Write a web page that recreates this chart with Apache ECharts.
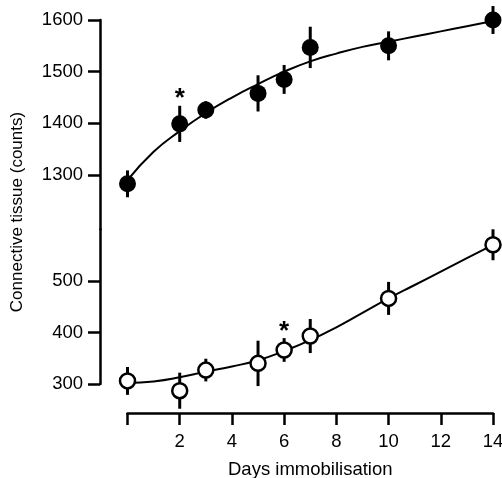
<!DOCTYPE html>
<html>
<head>
<meta charset="utf-8">
<script src="https://cdn.jsdelivr.net/npm/echarts@6/dist/echarts.min.js"></script>
<style>
  html, body { margin: 0; padding: 0; background: #fff; }
  #chart { width: 502px; height: 478px; }
</style>
</head>
<body>
<div id="chart"></div>
<script>
// days of immobilisation for the measured points
const days = [0, 2, 3, 5, 6, 7, 10, 14];
// upper group (filled circles)
const upperMean = [1283, 1399, 1426, 1458, 1485, 1547, 1550, 1600];
const upperErr = [26, 35, 17, 35, 28, 40, 28, 27];
// lower group (open circles)
const lowerMean = [306, 287, 327, 340, 366, 393, 466, 570];
const lowerErr = [27, 35, 22, 44, 23, 33, 32, 30];
// fitted curves
const curveDays = [0, 1, 2, 3, 4, 5, 6, 7, 8, 9, 10, 11, 12, 13, 14];
const upperCurve = [1290, 1345, 1385, 1420, 1450, 1476, 1500, 1520, 1535, 1548, 1558, 1568, 1578, 1588, 1598];
const lowerCurve = [302, 305, 313, 324, 334, 346, 364, 385, 410, 438, 466, 492, 518, 544, 570];
// tick labels
const upperTicks = [1300, 1400, 1500, 1600];
const lowerTicks = [300, 400, 500];
const xTicks = [0, 2, 4, 6, 8, 10, 12, 14];
const xLabels = [2, 4, 6, 8, 10, 12, 14];
// points marked significant (*)
const upperStar = [2];
const lowerStar = [6];

const font = 'Liberation Sans';

function pairs(xs, ys) {
  return xs.map((x, i) => [x, ys[i]]);
}

function errData(means, errs) {
  return days.map((d, i) => [d, means[i] - errs[i], means[i] + errs[i]]);
}

function errorSeries(idx, data) {
  return {
    type: 'custom',
    xAxisIndex: idx,
    yAxisIndex: idx,
    data: data,
    z: 3,
    clip: false,
    renderItem: function (params, api) {
      const lo = api.coord([api.value(0), api.value(1)]);
      const hi = api.coord([api.value(0), api.value(2)]);
      return {
        type: 'line',
        shape: { x1: lo[0], y1: lo[1], x2: hi[0], y2: hi[1] },
        style: { stroke: '#000', lineWidth: 3 }
      };
    }
  };
}

function pointData(means, stars, dist) {
  return days.map((d, i) => {
    const item = { value: [d, means[i]] };
    if (stars.indexOf(d) >= 0) {
      item.label = {
        show: true, formatter: '*', position: 'top', distance: dist,
        fontSize: 26, fontWeight: 'bold', color: '#000', fontFamily: font
      };
    }
    return item;
  });
}

const yCommon = {
  type: 'value',
  offset: 27.5,
  splitLine: { show: false },
  axisLine: { show: true, onZero: false, lineStyle: { color: '#000', width: 2.5 } },
  axisTick: { show: true, length: 12, lineStyle: { color: '#000', width: 2.5 } },
  axisLabel: {
    margin: 17, color: '#000', fontSize: 18.5, fontFamily: font,
    formatter: v => String(v)
  }
};

const chart = echarts.init(document.getElementById('chart'));

chart.setOption({
  animation: false,
  backgroundColor: '#fff',
  grid: [
    { left: 127.5, right: 9, top: 20, height: 209.3, outerBoundsMode: 'none', containLabel: false },
    { left: 127.5, right: 9, top: 229.3, height: 154.7, outerBoundsMode: 'none', containLabel: false }
  ],
  xAxis: [
    { gridIndex: 0, type: 'value', min: 0, max: 14, show: false },
    {
      gridIndex: 1, type: 'value', min: 0, max: 14, interval: 2,
      offset: 29,
      name: 'Days immobilisation', nameLocation: 'middle', nameGap: 47,
      nameTextStyle: { color: '#000', fontSize: 18.5, fontFamily: font },
      splitLine: { show: false },
      axisLine: { show: true, onZero: false, lineStyle: { color: '#000', width: 2.5 } },
      axisTick: { show: true, length: 12, customValues: xTicks, lineStyle: { color: '#000', width: 2.5 } },
      axisLabel: { customValues: xLabels, margin: 19, color: '#000', fontSize: 18.5, fontFamily: font }
    }
  ],
  yAxis: [
    Object.assign({}, yCommon, {
      gridIndex: 0, min: 1195, max: 1600,
      axisTick: Object.assign({}, yCommon.axisTick, { customValues: upperTicks }),
      axisLabel: Object.assign({}, yCommon.axisLabel, { customValues: upperTicks })
    }),
    Object.assign({}, yCommon, {
      gridIndex: 1, min: 300, max: 600,
      axisTick: Object.assign({}, yCommon.axisTick, { customValues: lowerTicks }),
      axisLabel: Object.assign({}, yCommon.axisLabel, { customValues: lowerTicks })
    })
  ],
  graphic: [{
    type: 'text',
    x: 17, y: 212,
    rotation: Math.PI / 2,
    style: {
      text: 'Connective tissue (counts)',
      fill: '#000', fontSize: 17, fontFamily: font,
      align: 'center', verticalAlign: 'middle'
    }
  }],
  series: [
    {
      type: 'line', xAxisIndex: 0, yAxisIndex: 0, smooth: true, symbol: 'none',
      data: pairs(curveDays, upperCurve), z: 2,
      lineStyle: { color: '#000', width: 2 }
    },
    {
      type: 'line', xAxisIndex: 1, yAxisIndex: 1, smooth: true, symbol: 'none',
      data: pairs(curveDays, lowerCurve), z: 2,
      lineStyle: { color: '#000', width: 2 }
    },
    errorSeries(0, errData(upperMean, upperErr)),
    errorSeries(1, errData(lowerMean, lowerErr)),
    {
      type: 'scatter', xAxisIndex: 0, yAxisIndex: 0, clip: false, z: 4,
      symbol: 'circle', symbolSize: 17,
      itemStyle: { color: '#000', opacity: 1 },
      data: pointData(upperMean, upperStar, 4)
    },
    {
      type: 'scatter', xAxisIndex: 1, yAxisIndex: 1, clip: false, z: 4,
      symbol: 'circle', symbolSize: 15,
      itemStyle: { color: '#fff', borderColor: '#000', borderWidth: 2.5, opacity: 1 },
      data: pointData(lowerMean, lowerStar, -4)
    }
  ]
});
</script>
</body>
</html>
